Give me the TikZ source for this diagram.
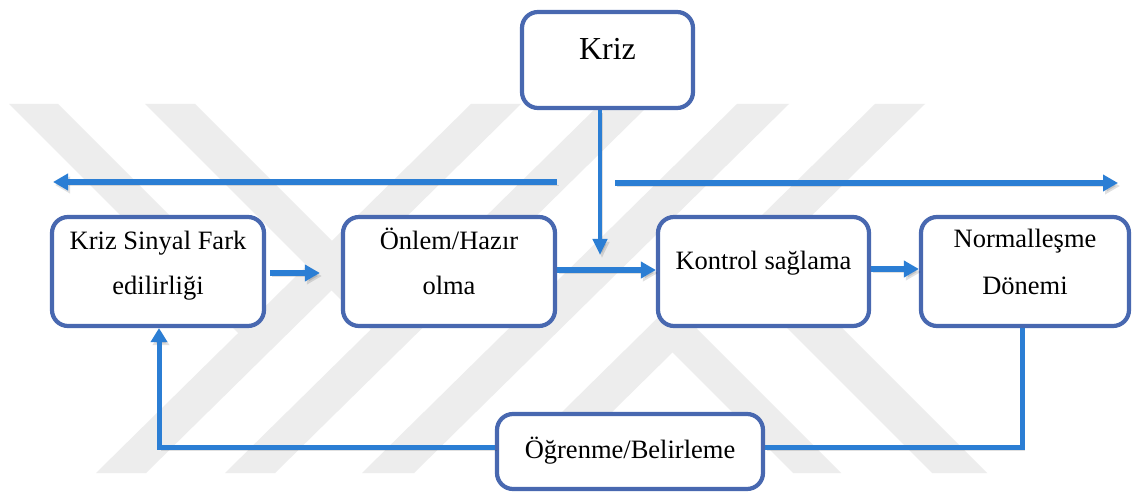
\documentclass[tikz,border=0pt]{standalone}
\usepackage{fontspec}
\setmainfont{Liberation Serif}
\usetikzlibrary{arrows.meta,calc}

\definecolor{boxblue}{RGB}{72,104,176}
\definecolor{flowblue}{RGB}{43,126,212}
\definecolor{wmgray}{RGB}{237,237,237}

\tikzset{
  box/.style={draw=boxblue, line width=4.2pt, rounded corners=16pt, fill=white, inner sep=0pt},
  lbl/.style={anchor=base, inner sep=0pt, font=\fontsize{26.5}{30}\selectfont},
  flow/.style={draw=flowblue, line width=5pt,
    preaction={draw=black, opacity=0.12, transform canvas={shift={(2pt,-3pt)}}}},
  thickflow/.style={flow, line width=6.5pt},
  head/.style={-{Triangle[length=15pt,width=16pt]}},
  wm/.style={fill=wmgray}
}

\begin{document}
\begin{tikzpicture}[x=1pt,y=-1pt]
  \useasboundingbox (0,0) rectangle (1133,494);
  \fill[white] (0,0) rectangle (1133,494);

  % faint background emblem: slanted bands
  \fill[wm] (471,104) -- (521,104) -- (146,473) -- (96,473) -- cycle;
  \fill[wm] (600,104) -- (650,104) -- (275,473) -- (225,473) -- cycle;
  \fill[wm] (737,104) -- (789,104) -- (414,473) -- (362,473) -- cycle;
  \fill[wm] (875,104) -- (925,104) -- (550,473) -- (500,473) -- cycle;
  \fill[wm] (9,104) -- (58,104) -- (275.3,321.3) -- (250.6,345.6) -- cycle;
  \fill[wm] (145,104) -- (195,104) -- (408.3,317.3) -- (383.1,342.1) -- cycle;
  \fill[wm] (684.3,316.3) -- (841,473) -- (793,473) -- (660.1,340.1) -- cycle;
  \fill[wm] (757.9,243.9) -- (987,473) -- (932,473) -- (730.2,271.2) -- cycle;

  % boxes
  \node[box, minimum width=171pt, minimum height=96pt]  (kriz)    at (607.5,60)   {};
  \node[box, minimum width=212pt, minimum height=109pt] (ks)      at (158,271.5)  {};
  \node[box, minimum width=212pt, minimum height=109pt] (onlem)   at (449,271.5)  {};
  \node[box, minimum width=211pt, minimum height=109pt] (kontrol) at (763.5,271.5){};
  \node[box, minimum width=208pt, minimum height=109pt] (norm)    at (1025,271.5) {};
  \node[box, minimum width=266pt, minimum height=75pt]  (ogr)     at (630,451.5)  {};

  % labels
  \node[lbl, font=\fontsize{32}{36}\selectfont] (kriz-t) at (607.5,59.5) {Kriz};
  \node[lbl] (ks-t1)      at (158,250)   {Kriz Sinyal Fark};
  \node[lbl] (ks-t2)      at (158,295)   {edilirliği};
  \node[lbl] (onlem-t1)   at (449,250)   {Önlem/Hazır};
  \node[lbl] (onlem-t2)   at (449,295)   {olma};
  \node[lbl] (kontrol-t)  at (763.5,270) {Kontrol sağlama};
  \node[lbl] (norm-t1)    at (1025,248)  {Normalleşme};
  \node[lbl] (norm-t2)    at (1025,295)  {Dönemi};
  \node[lbl] (ogr-t)      at (630,458)   {Öğrenme/Belirleme};

  % free ends of the connectors
  \coordinate (kx)    at (600,0);
  \coordinate (ktip)  at (600,255);
  \coordinate (lbeg)  at (557,182);
  \coordinate (lend)  at (53,182);
  \coordinate (rbeg)  at (615,183);
  \coordinate (rend)  at (1118,183);
  \coordinate (fbR)   at (1022,447);
  \coordinate (fbL)   at (159,447);

  % crisis input and the two outward arrows
  \draw[flow, line width=4.5pt, -{Triangle[length=16pt,width=14pt]}] (kx |- kriz.south) -- (ktip);
  \draw[flow, line width=5.5pt, head] (lbeg) -- (lend);
  \draw[flow, line width=5.5pt, head] (rbeg) -- (rend);

  % main sequence
  \draw[thickflow, head] ($(ks.east)+(4,1.5)$) -- ($(onlem.west)+(-21,1.5)$);
  \draw[thickflow, line width=6pt, head] ($(onlem.east)+(0,-1.5)$) -- ($(kontrol.west)+(0,-1.5)$);
  \draw[thickflow, line width=6pt, head] ($(kontrol.east)+(0,-2.5)$) -- ($(norm.west)+(0,-2.5)$);

  % feedback loop through learning
  \draw[flow] (norm.south -| fbR) -- (fbR) -- (fbR -| ogr.east);
  \draw[flow, -{Triangle[length=14pt,width=16pt]}] (fbL -| ogr.west) -- (fbL) -- (fbL |- ks.south);
\end{tikzpicture}
\end{document}
